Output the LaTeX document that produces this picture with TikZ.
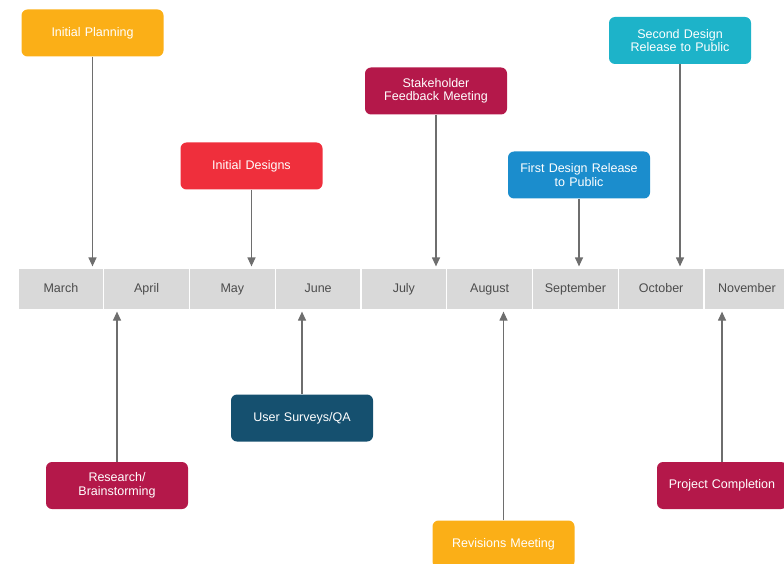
\documentclass[tikz,border=0pt]{standalone}
\usepackage{fontspec}
\setmainfont{Liberation Sans}
\usetikzlibrary{arrows.meta}
\definecolor{cOrange}{HTML}{FBAF17}
\definecolor{cRed}{HTML}{EF2F3C}
\definecolor{cCrimson}{HTML}{B4184A}
\definecolor{cBlue}{HTML}{1B8DCD}
\definecolor{cTeal}{HTML}{1DB3C9}
\definecolor{cNavy}{HTML}{15506F}
\definecolor{cBand}{HTML}{D9D9D9}
\definecolor{cLine}{HTML}{6E6E6E}
\tikzset{
  event/.style={rounded corners=6pt, minimum width=142pt, minimum height=47pt,
    text width=130pt, align=center, text=white, font=\fontsize{12.5}{13.5}\selectfont, inner sep=0pt},
  month/.style={fill=cBand, draw=white, line width=1.2pt, minimum width=85.75pt,
    minimum height=42pt, inner sep=0pt, text height=9pt, text depth=3pt,
    text=black!70, font=\fontsize{12.5}{14}\selectfont},
  link/.style={draw=cLine, line width=1.2pt, -{Triangle[length=9pt,width=8pt]}, shorten >=1pt}
}
\begin{document}
\begin{tikzpicture}[x=1pt, y=-1pt]
\useasboundingbox (0,0) rectangle (784,564);
% timeline band
\foreach \m [count=\i] in {March,April,May,June,July,August,September,October,November}
  \node[month] (m\i) at ({18+85.75*(\i-0.5)},289) {\m};
% events above
\node[event, fill=cOrange] (plan) at (92.5,33) {Initial Planning};
\node[event, fill=cRed] (designs) at (251.5,166) {Initial Designs};
\node[event, fill=cCrimson] (stake) at (436,91) {Stakeholder\\Feedback Meeting};
\node[event, fill=cBlue] (first) at (579,175) {First Design Release\\to Public};
\node[event, fill=cTeal] (second) at (680,40.5) {Second Design\\Release to Public};
% events below
\node[event, fill=cCrimson] (research) at (117,485.5) {Research/\\Brainstorming};
\node[event, fill=cNavy] (surveys) at (302,418) {User Surveys/QA};
\node[event, fill=cOrange] (revisions) at (503.5,544) {Revisions Meeting};
\node[event, fill=cCrimson, minimum width=130pt, text width=120pt] (completion) at (722,485.5) {Project Completion};
% connectors
\draw[link] (plan.south) -- (plan.south |- m1.north);
\draw[link] (designs.south) -- (designs.south |- m3.north);
\draw[link] (stake.south) -- (stake.south |- m5.north);
\draw[link] (first.south) -- (first.south |- m7.north);
\draw[link] (second.south) -- (second.south |- m8.north);
\draw[link] (research.north) -- (research.north |- m2.south);
\draw[link] (surveys.north) -- (surveys.north |- m4.south);
\draw[link] (revisions.north) -- (revisions.north |- m6.south);
\draw[link] (completion.north) -- (completion.north |- m9.south);
\end{tikzpicture}
\end{document}
